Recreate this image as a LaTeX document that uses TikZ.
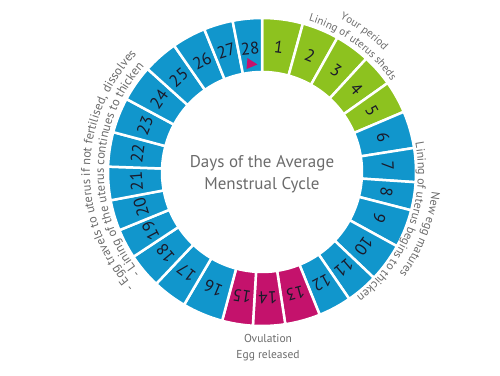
\documentclass[tikz,border=0pt]{standalone}
\usepackage{fontspec}
\setmainfont{PT Sans}
\usetikzlibrary{decorations.text}
\definecolor{cblue}{HTML}{1196CC}
\definecolor{cgreen}{HTML}{8DC21F}
\definecolor{cmag}{HTML}{C4126C}
\definecolor{cnum}{HTML}{1A1A2A}
\definecolor{cgray}{HTML}{6B6B6B}
\newcommand{\lblfont}{\fontsize{11}{13}\selectfont\color{cgray}}
\newcommand{\lblfontb}{\fontsize{12}{14}\selectfont\color{cgray}}
\newcommand{\lblfontc}{\fontsize{12.5}{14}\selectfont\color{cgray}}
\begin{document}
\begin{tikzpicture}[x=1pt,y=1pt,
  seg/.style={draw=white, line width=2.5pt},
  daynum/.style={text=cnum, font=\fontsize{17}{17}\selectfont, inner sep=0pt},
  lbl/.style={text=cgray, font=\fontsize{11.5}{16}\selectfont, align=center},
  titletext/.style={text=cgray, font=\fontsize{17}{22}\selectfont, align=center}]
\useasboundingbox (-262,-203) rectangle (238,172);
\foreach \a/\b/\n/\c/\r in {
  90/74.6/1/cgreen/126, 74.6/60.7/2/cgreen/126, 60.7/47.4/3/cgreen/126,
  47.4/35.3/4/cgreen/126, 35.3/23/5/cgreen/126, 23/9/6/cblue/126,
  9/-3.8/7/cblue/126, -3.8/-14.4/8/cblue/126, -14.4/-28.8/9/cblue/126,
  -28.8/-43.4/10/cblue/126, -43.4/-55.5/11/cblue/126, -55.5/-68/12/cblue/126,
  -68/-81.3/13/cmag/126, -81.3/-93.4/14/cmag/126, -93.4/-105/15/cmag/126,
  -105/-120.4/16/cblue/126, -120.4/-133.4/17/cblue/126, -133.4/-146.6/18/cblue/126,
  -146.6/-157.8/19/cblue/126, -157.8/-169.4/20/cblue/126, -169.4/-182/21/cblue/126,
  -182/-195/22/cblue/126, -195/-208.3/23/cblue/126, -208.3/-222/24/cblue/126,
  -222/-235.2/25/cblue/126, -235.2/-248/26/cblue/126, -248/-259/27/cblue/126,
  -259/-270/28/cblue/124}{
  \path[seg, fill=\c] (\a:154) arc[start angle=\a, end angle=\b, radius=154]
    -- (\b:100) arc[start angle=\b, end angle=\a, radius=100] -- cycle;
  \pgfmathsetmacro\m{(\a+\b)/2}
  \node[daynum, rotate=\m-90] (d\n) at (\m:\r) {\n};
}
\begin{scope}[shift={(-10,108)}, rotate=-5]
  \fill[cmag] (-5,-5.5) -- (-5,5.5) -- (5.5,0) -- cycle;
\end{scope}
\node[titletext] (title) at (0,-2) {Days of the Average\\Menstrual Cycle};
\node[lbl] (ovu) at (6,-176) {Ovulation\\Egg released};
% curved labels
\path[decorate, decoration={text along path, text align=center,
  text={|\lblfont|Your period}}]
  (124:172) arc[start angle=124, end angle=-16, radius=172];
\path[decorate, decoration={text along path, text align=center,
  text={|\lblfont|Lining of uterus sheds}}]
  (124:158) arc[start angle=124, end angle=-16, radius=158];
\path[decorate, decoration={text along path, text align=center,
  text={|\lblfontb|Lining of uterus begins to thicken}}]
  (59:156) arc[start angle=59, end angle=-101, radius=156];
\path[decorate, decoration={text along path, text align=center,
  text={|\lblfontb|New egg matures}}]
  (48.5:171) arc[start angle=48.5, end angle=-91.5, radius=171];
\path[decorate, decoration={text along path, text align=center,
  text={|\lblfontc|- Egg travels to uterus if not fertilised, dissolves}}]
  (264.4:172) arc[start angle=264.4, end angle=94.4, radius=172];
\path[decorate, decoration={text along path, text align=center,
  text={|\lblfontc|- Lining of the uterus continues to thicken}}]
  (264:158) arc[start angle=264, end angle=94, radius=158];
\end{tikzpicture}
\end{document}
